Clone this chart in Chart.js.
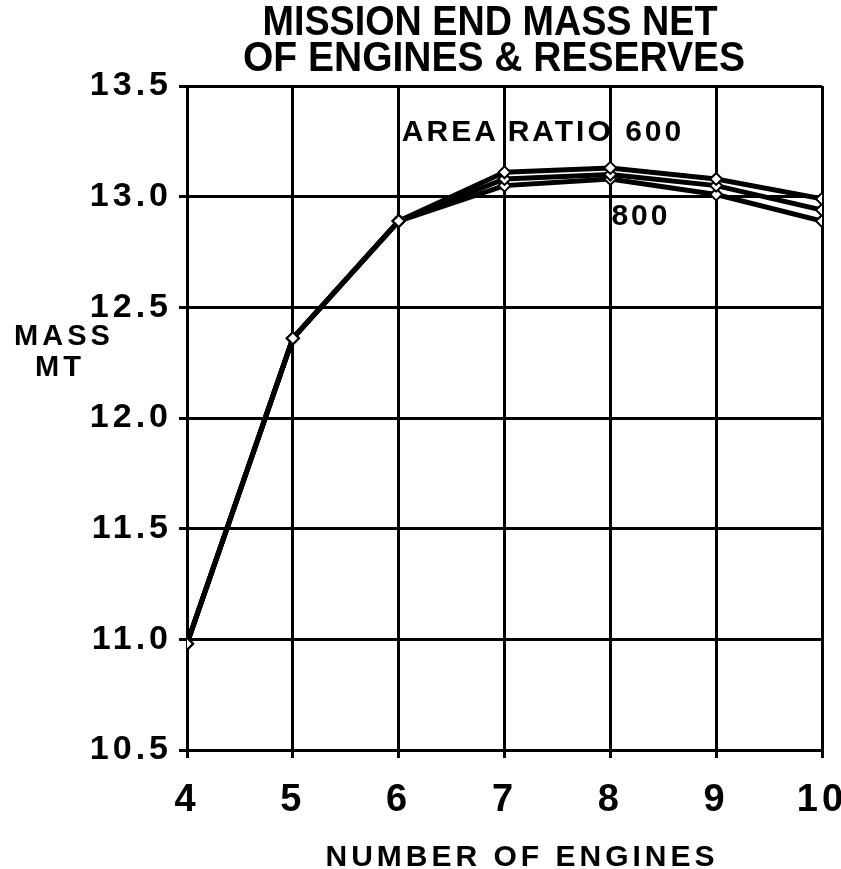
<!DOCTYPE html>
<html>
<head>
<meta charset="utf-8">
<script src="https://cdn.jsdelivr.net/npm/chart.js@4.4.1/dist/chart.umd.min.js"></script>
<style>
  html, body { margin: 0; padding: 0; background: #fff; }
  #wrap { width: 841px; height: 869px; }
</style>
</head>
<body>
<div id="wrap"><canvas id="massChart"></canvas></div>
<script>
const engines = [4, 5, 6, 7, 8, 9, 10];
const ratio600 = [10.98, 12.36, 12.89, 13.11, 13.13, 13.08, 12.99];
const ratio700 = [10.98, 12.36, 12.89, 13.08, 13.10, 13.05, 12.94];
const ratio800 = [10.98, 12.36, 12.89, 13.05, 13.08, 13.01, 12.89];
const yTicks = [10.5, 11.0, 11.5, 12.0, 12.5, 13.0, 13.5];

const FONT = '"Liberation Sans", Arial, sans-serif';

function toPoints(values) {
    return engines.map((e, i) => ({ x: e, y: values[i] }));
}

function lineSet(label, values) {
    return {
        label: label,
        data: toPoints(values),
        borderColor: '#000',
        borderWidth: 5,
        tension: 0,
        pointStyle: 'rectRot',
        pointRadius: 6,
        pointBackgroundColor: '#fff',
        pointBorderColor: '#000',
        pointBorderWidth: 2,
    };
}

// white page, wide letter spacing for the axis text, plus the free text labels
const extras = {
    id: 'extras',
    beforeDraw(chart) {
        const c = chart.ctx;
        c.save();
        c.fillStyle = '#fff';
        c.fillRect(0, 0, chart.width, chart.height);
        c.restore();
        c.letterSpacing = '4px';
    },
    afterDraw(chart) {
        const c = chart.ctx;
        const xs = chart.scales.x, ys = chart.scales.y;
        c.save();
        c.fillStyle = '#000';
        c.textBaseline = 'middle';

        // two-line heading
        c.letterSpacing = '0px';
        c.textAlign = 'center';
        c.font = 'bold 42px ' + FONT;
        c.fillText('MISSION END MASS NET', 490, 23, 455);
        c.fillText('OF ENGINES & RESERVES', 494, 59, 502);

        // axis titles
        c.letterSpacing = '4px';
        c.font = 'bold 29px ' + FONT;
        c.fillText('MASS', 64, 337);
        c.fillText('MT', 60, 368);
        c.font = 'bold 30px ' + FONT;
        c.fillText('NUMBER OF ENGINES', 522, 858);

        // series labels
        c.textAlign = 'left';
        c.letterSpacing = '3px';
        c.font = 'bold 30px ' + FONT;
        const yLab = ys.getPixelForValue(13.29);
        c.fillText('AREA', xs.getPixelForValue(6.03), yLab);
        c.fillText('RATIO', xs.getPixelForValue(7.03), yLab);
        c.fillText('600', xs.getPixelForValue(8.14), yLab);
        c.fillText('800', xs.getPixelForValue(8.01), ys.getPixelForValue(12.91));
        c.restore();
    }
};

const ctx = document.getElementById('massChart');

new Chart(ctx, {
    type: 'line',
    data: {
        datasets: [
            lineSet('600', ratio600),
            lineSet('700', ratio700),
            lineSet('800', ratio800),
        ]
    },
    plugins: [extras],
    options: {
        responsive: true,
        maintainAspectRatio: false,
        animation: false,
        layout: {
            padding: { top: 86, right: 19, bottom: 0, left: 0 }
        },
        plugins: {
            legend: { display: false },
            title: { display: false },
            tooltip: { enabled: false }
        },
        scales: {
            x: {
                type: 'linear',
                min: 4,
                max: 10,
                afterFit(scale) {
                    scale.height = 119;
                    scale.paddingLeft = 0;
                    scale.paddingRight = 0;
                },
                ticks: {
                    stepSize: 1,
                    color: '#000',
                    padding: 20,
                    font: { family: FONT, size: 38, weight: 'bold', lineHeight: 1.2 }
                },
                grid: { color: '#000', lineWidth: 3, tickLength: 8 },
                border: { color: '#000', width: 3 }
            },
            y: {
                type: 'linear',
                min: 10.5,
                max: 13.5,
                afterFit(scale) {
                    scale.width = 187;
                },
                afterBuildTicks(scale) {
                    scale.ticks = yTicks.map(v => ({ value: v }));
                },
                ticks: {
                    color: '#000',
                    padding: 7,
                    callback: value => value.toFixed(1),
                    font: { family: FONT, size: 34, weight: 'bold' }
                },
                grid: { color: '#000', lineWidth: 3, tickLength: 8 },
                border: { color: '#000', width: 3 }
            }
        }
    }
});
</script>
</body>
</html>
